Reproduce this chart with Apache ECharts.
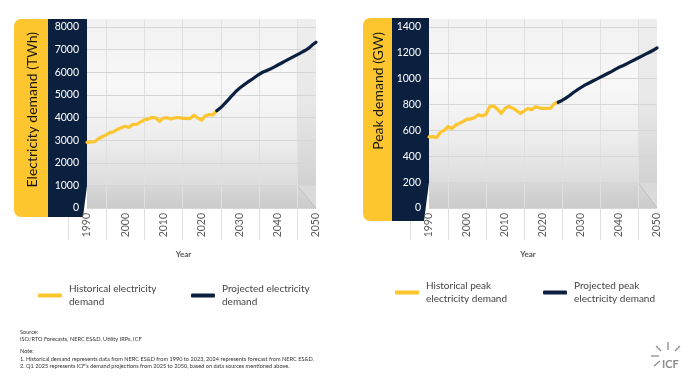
<!DOCTYPE html>
<html><head><meta charset="utf-8">
<script src="https://cdn.jsdelivr.net/npm/echarts@6.0.0/dist/echarts.min.js"></script>
<style>html,body{margin:0;padding:0;background:#fff}#c{width:700px;height:382px}</style>
</head><body><div id="c"></div>
<script>
// ---------- data ----------
const histYears = [1990,1991,1992,1993,1994,1995,1996,1997,1998,1999,2000,2001,2002,2003,2004,2005,2006,2007,2008,2009,2010,2011,2012,2013,2014,2015,2016,2017,2018,2019,2020,2021,2022,2023,2024];
const projYears = [2024,2025,2026,2027,2028,2029,2030,2031,2032,2033,2034,2035,2036,2037,2038,2039,2040,2041,2042,2043,2044,2045,2046,2047,2048,2049,2050];
const histEnergy = [2900,2920,2930,3060,3150,3230,3330,3370,3480,3550,3610,3560,3700,3690,3800,3900,3930,4000,3990,3830,3970,3990,3940,3980,4000,3960,3960,3950,4100,3980,3880,4070,4130,4120,4300];
const projEnergy = [4300,4430,4600,4780,4970,5150,5300,5430,5550,5660,5780,5900,6000,6070,6140,6230,6320,6410,6500,6590,6680,6770,6860,6950,7050,7200,7330];
const histPeak = [550,552,545,585,600,630,615,640,655,670,688,688,700,720,712,725,785,788,765,732,770,786,772,755,732,750,770,760,782,775,770,770,772,808,818];
const projPeak = [818,832,850,870,893,913,932,950,965,980,995,1010,1025,1040,1055,1072,1088,1100,1115,1130,1145,1160,1175,1190,1205,1220,1238];
const xTickYears = [1990,2000,2010,2020,2030,2040,2050];
const energyTicks = [0,1000,2000,3000,4000,5000,6000,7000,8000];
const peakTicks = [0,200,400,600,800,1000,1200,1400];
const wallLineYears = [1985,1995,2005,2015,2025,2035,2045];
const seriesNames = ['Historical electricity demand','Projected electricity demand','Historical peak electricity demand','Projected peak electricity demand'];
const legendLabels = ['Historical electricity\ndemand','Projected electricity\ndemand','Historical peak\nelectricity demand','Projected peak\nelectricity demand'];
const axisTitles = ['Electricity demand (TWh)','Peak demand (GW)'];

const YELLOW = '#FDC52E', NAVY = '#0B1F3F';
const FONT = 'Lato';
const pairs = (xs, ys) => xs.map((x, i) => [x, ys[i]]);

const chart = echarts.init(document.getElementById('c'), null, {renderer:'canvas'});

function xAxisCfg(gi){
  return {gridIndex:gi,type:'value',min:xTickYears[0],max:xTickYears[xTickYears.length-1],interval:xTickYears[1]-xTickYears[0],
    axisLine:{show:false},axisTick:{show:false},splitLine:{show:false},
    axisLabel:{rotate:90,color:'#5a5a5a',fontSize:10.5,margin:5,fontFamily:FONT,formatter:v=>String(v)}};
}
function yAxisCfg(gi, ticks){
  return {gridIndex:gi,type:'value',min:ticks[0],max:ticks[ticks.length-1],interval:ticks[1]-ticks[0],
    axisLine:{show:false},axisTick:{show:false},
    splitLine:{show:true,lineStyle:{color:'#d6d6d6',width:1}},
    axisLabel:{color:'#ffffff',fontSize:10.5,margin:8,fontFamily:FONT,formatter:v=>String(v)}};
}
function lineSeries(name, xi, data, color){
  return {name, type:'line', xAxisIndex:xi, yAxisIndex:xi, data, showSymbol:false, symbol:'none',
    lineStyle:{color, width:3.2, cap:'round', join:'round'}, itemStyle:{color}, silent:true, z:3};
}
function legendCfg(i, left, top){
  return {data:[seriesNames[i]], left, top, orient:'horizontal', icon:'roundRect', itemWidth:24, itemHeight:4,
    itemGap:0, selectedMode:false, formatter:()=>legendLabels[i],
    textStyle:{color:'#444',fontSize:10,lineHeight:12.5,fontFamily:FONT,padding:[0,0,0,2]}};
}

chart.setOption({
  animation:false,
  grid:[{left:87,top:27,width:229,height:181},{left:429,top:27,width:228,height:181}],
  xAxis:[xAxisCfg(0),xAxisCfg(1)],
  yAxis:[yAxisCfg(0,energyTicks),yAxisCfg(1,peakTicks)],
  legend:[legendCfg(0,33,278),legendCfg(1,186,278),legendCfg(2,390,275),legendCfg(3,538,275)],
  series:[
    lineSeries(seriesNames[0],0,pairs(histYears,histEnergy),YELLOW),
    lineSeries(seriesNames[1],0,pairs(projYears,projEnergy),NAVY),
    lineSeries(seriesNames[2],1,pairs(histYears,histPeak),YELLOW),
    lineSeries(seriesNames[3],1,pairs(projYears,projPeak),NAVY)
  ]
});

// ---------- decoration (3D box, panels, titles) ----------
const panels = [
  {gi:0, floorVal:energyTicks[1], yellowX:14, navyX:48, navyBottomX:83, pTop:19, pBot:217, titleX:32, yearDx:-18},
  {gi:1, floorVal:peakTicks[1], yellowX:363, navyX:392, navyBottomX:424, pTop:18, pBot:221, titleX:378, yearDx:-15}
];
const g = [];
panels.forEach((p, k) => {
  const fi = {xAxisIndex:p.gi, yAxisIndex:p.gi};
  const [L, B] = chart.convertToPixel(fi, [xTickYears[0], 0]);
  const [R, T] = chart.convertToPixel(fi, [xTickYears[xTickYears.length-1], k===0?energyTicks[8]:peakTicks[7]]);
  const F = chart.convertToPixel(fi, [xTickYears[0], p.floorVal])[1];
  const S = chart.convertToPixel(fi, [wallLineYears[wallLineYears.length-1], 0])[0];
  const wallTop = 19;
  g.push({type:'rect', z:-10, silent:true, shape:{x:L,y:wallTop,width:R-L,height:F-wallTop},
    style:{fill:new echarts.graphic.LinearGradient(0,0,0,1,[{offset:0,color:'#f1f1f1'},{offset:0.4,color:'#f8f8f8'},{offset:0.75,color:'#ececec'},{offset:1,color:'#dcdcdc'}])}});
  g.push({type:'rect', z:-9, silent:true, shape:{x:S,y:wallTop,width:R-S,height:F-wallTop},
    style:{fill:new echarts.graphic.LinearGradient(0,0,0,1,[{offset:0,color:'#eeeeee'},{offset:0.5,color:'#e8e8e8'},{offset:1,color:'#d2d2d2'}])}});
  g.push({type:'rect', z:-9, silent:true, shape:{x:L,y:F,width:R-L,height:B-F},
    style:{fill:new echarts.graphic.LinearGradient(0,0,0,1,[{offset:0,color:'#d8d8d8'},{offset:1,color:'#cbcbcb'}])}});
  g.push({type:'polygon', z:-8, silent:true, shape:{points:[[S,F],[R,F],[R,B]]}, style:{fill:'#dadada'}});
  g.push({type:'line', z:-7, silent:true, shape:{x1:S,y1:F,x2:R,y2:B}, style:{stroke:'#c2c2c2',lineWidth:1}});
  wallLineYears.forEach(yr => {
    const x = Math.round(chart.convertToPixel(fi, [yr, 0])[0]) + 0.5;
    g.push({type:'line', z:-6, silent:true, shape:{x1:x,y1:wallTop,x2:x,y2:B+32}, style:{stroke:'#e0e0e0',lineWidth:1}});
  });
  g.push({type:'rect', z:-1, silent:true, shape:{x:p.yellowX,y:p.pTop,width:p.navyX-p.yellowX+2,height:p.pBot-p.pTop,r:[7,0,0,7]}, style:{fill:YELLOW}});
  g.push({type:'polygon', z:-1, silent:true, shape:{points:[[p.navyX,p.pTop],[L,p.pTop],[L,F],[p.navyBottomX,p.pBot],[p.navyX,p.pBot]]}, style:{fill:NAVY}});
  g.push({type:'text', z:1, silent:true, x:p.titleX, y:32, rotation:Math.PI/2,
    style:{text:axisTitles[k], fill:'#161616', font:'14px '+FONT, align:'right', verticalAlign:'middle'}});
  g.push({type:'text', z:1, silent:true, x:(L+R)/2 + p.yearDx, y:254,
    style:{text:'Year', fill:'#555', font:'bold 8px '+FONT, align:'center', verticalAlign:'middle'}});
});

const notes = [
  ['Source:',332],
  ['ISO/RTO Forecasts, NERC ES&D, Utility IRPs, ICF',339],
  ['Note:',351],
  ['1. Historical demand represents data from NERC ES&D from 1990 to 2023, 2024 represents forecast from NERC ES&D.',359],
  ['2. Q1 2025 represents ICF\u2019s demand projections from 2025 to 2050, based on data sources mentioned above.',366]
];
notes.forEach(([t,y]) => g.push({type:'text', silent:true, x:20, y,
  style:{text:t, fill:'#333', font:'5.6px '+FONT, align:'left', verticalAlign:'middle'}}));

const rays = [[[668,342],[668,350]],[[656,346],[661,351]],[[680,346],[675,351]],[[651,356],[659,356]],[[654,366],[660,361]]];
rays.forEach(([a,b]) => g.push({type:'line', silent:true, shape:{x1:a[0],y1:a[1],x2:b[0],y2:b[1]}, style:{stroke:'#8c8c8c',lineWidth:1.3}}));
g.push({type:'text', silent:true, x:662, y:364, style:{text:'ICF', fill:'#8c8c8c', font:'bold 11px '+FONT, align:'left', verticalAlign:'middle'}});

chart.setOption({graphic:g});
</script>
</body></html>
